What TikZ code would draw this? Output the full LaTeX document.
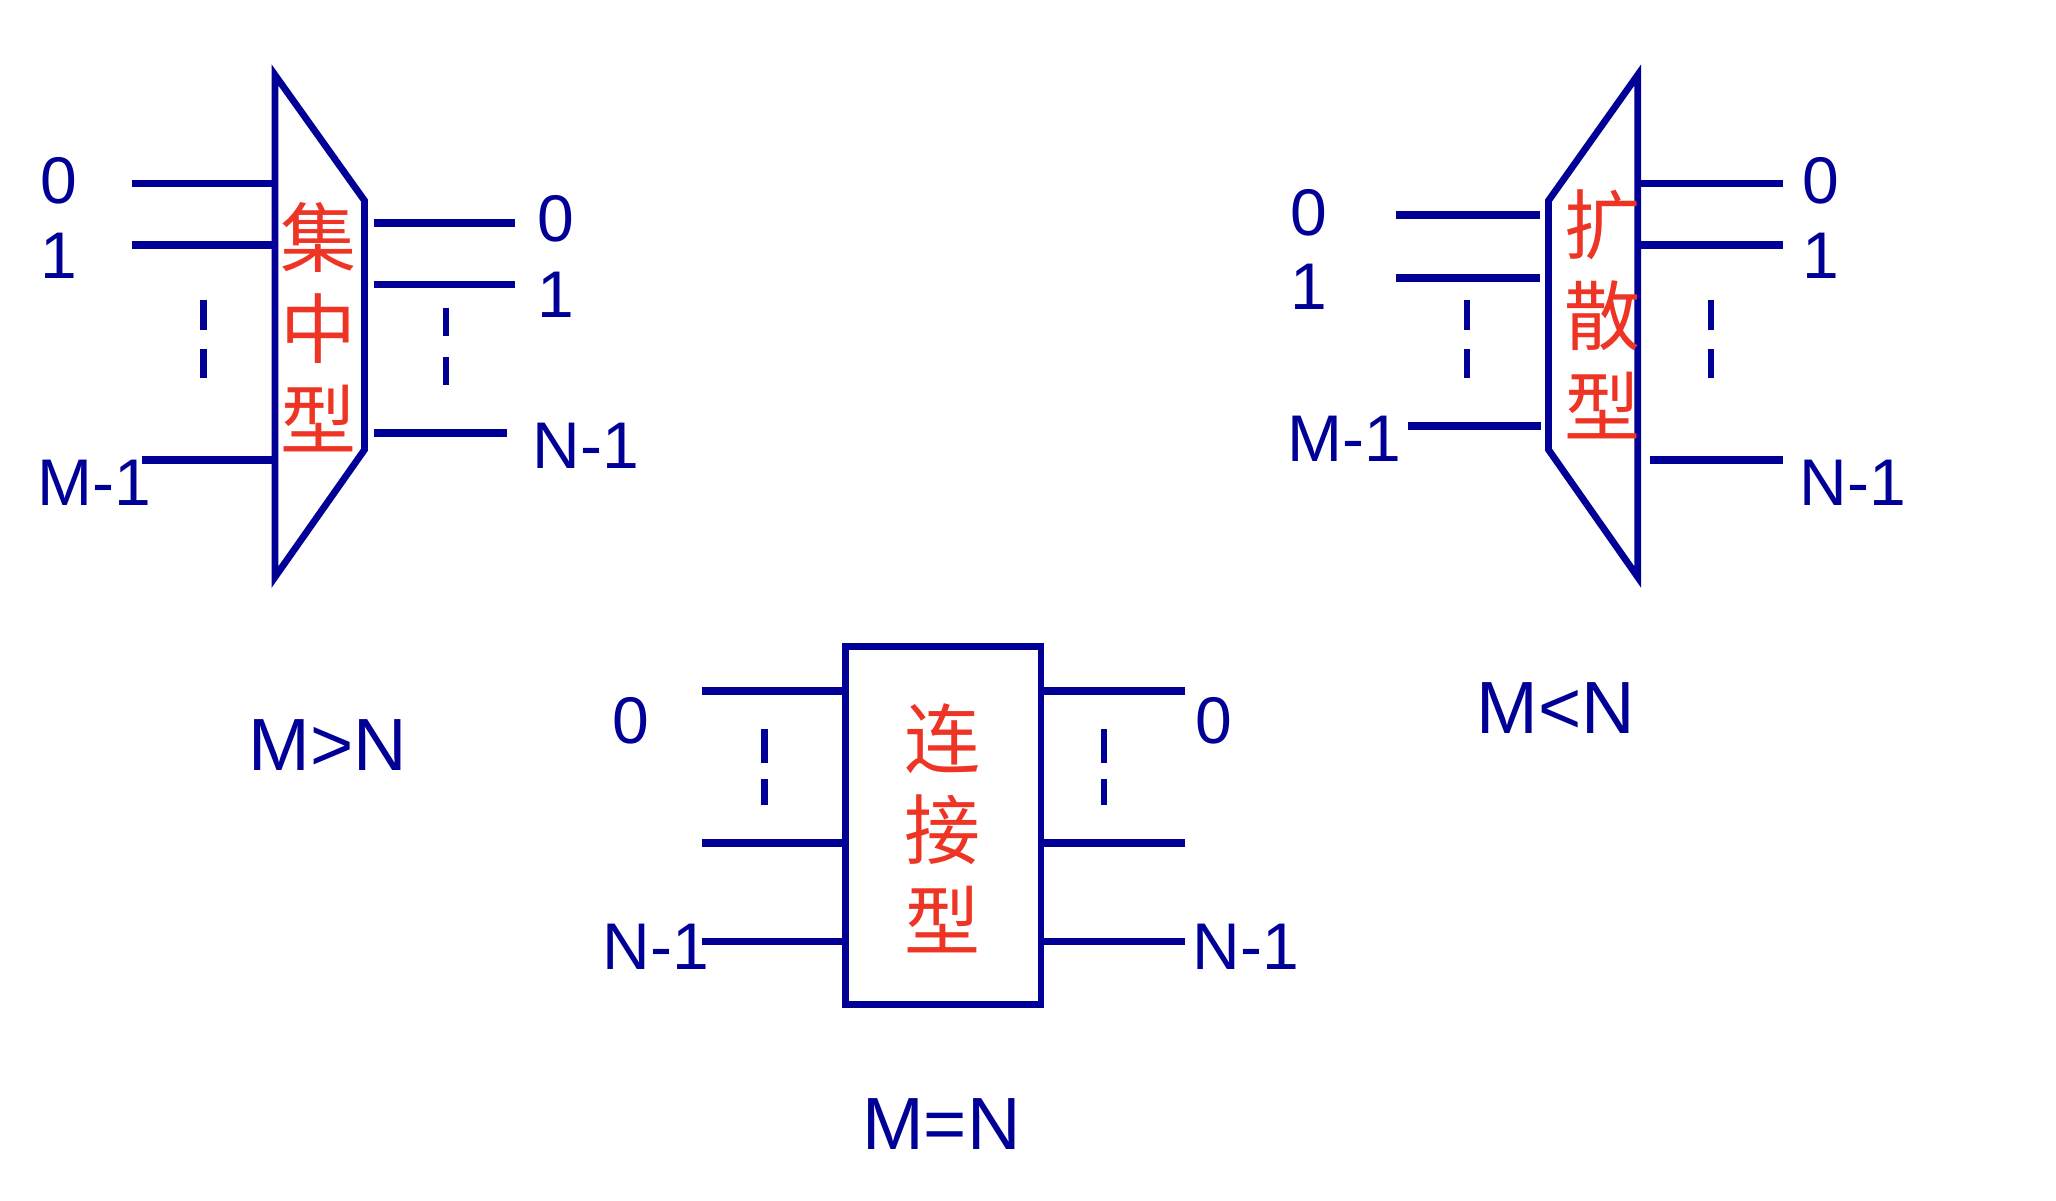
\documentclass[tikz,border=0pt]{standalone}
\usepackage{fontspec}
\setmainfont{Liberation Sans}
\newfontfamily\cjk{Noto Sans CJK SC}
\usetikzlibrary{positioning}
\definecolor{portblue}{RGB}{0,0,150}
\definecolor{typered}{RGB}{238,52,36}

\begin{document}
\begin{tikzpicture}[
  x=0.5pt, y=-0.5pt,
  port/.style={draw=portblue, line width=3.8pt},
  body/.style={draw=portblue, line width=3.4pt},
  gap/.style={draw=portblue, line width=3.3pt},
  num/.style={text=portblue, font=\fontsize{33}{36}\selectfont, inner sep=0pt},
  kind/.style={text=typered, font=\cjk\fontsize{38}{45.5}\selectfont, align=center, inner sep=0pt},
  rel/.style={text=portblue, font=\fontsize{37}{40}\selectfont, inner sep=0pt}
]
\useasboundingbox (0,0) rectangle (2056,1200);

% M>N : concentrating
\draw[body] (275,75) -- (364.5,200.6) -- (364.5,449.7) -- (275,577) -- cycle;
\node[kind] (conc) at (318.6,327.5) {集\\中\\型};
\draw[port] (132.4,183.6) -- (273,183.6);
\draw[port] (132.4,245.2) -- (273,245.2);
\draw[port] (141.6,460.2) -- (273,460.2);
\draw[port] (373.7,222.9) -- (515.3,222.9);
\draw[port] (373.7,284.5) -- (515.3,284.5);
\draw[port] (373.7,432.7) -- (507.4,432.7);
\foreach \x in {203.2} {
  \draw[gap] (\x,299.5) -- (\x,330);
  \draw[gap] (\x,348.8) -- (\x,377.6);
}
\foreach \x in {445.8} {
  \draw[gap] (\x,307.5) -- (\x,336);
  \draw[gap] (\x,357) -- (\x,385);
}
\node[num] (ca0) at (59,181) {0};
\node[num] (ca1) at (59,255.7) {1};
\node[num] (cam) at (94.4,482.5) {M-1};
\node[num] (cb0) at (556,219) {0};
\node[num] (cb1) at (556,295) {1};
\node[num] (cbn) at (586,445.8) {N-1};
\node[rel] (mgtn) at (327.8,744.8) {M>N};

% M<N : expanding
\draw[body] (1637.7,75) -- (1548.5,200.6) -- (1548.5,449.7) -- (1637.7,577) -- cycle;
\node[kind] (expa) at (1602,314.7) {扩\\散\\型};
\draw[port] (1396.4,215) -- (1540,215);
\draw[port] (1396.4,278) -- (1540,278);
\draw[port] (1408,426) -- (1541,426);
\draw[port] (1640,183.6) -- (1783,183.6);
\draw[port] (1640,245.2) -- (1783,245.2);
\draw[port] (1649.5,460.2) -- (1783,460.2);
\foreach \x in {1467, 1711} {
  \draw[gap] (\x,300) -- (\x,330);
  \draw[gap] (\x,348.8) -- (\x,377.6);
}
\node[num] (ea0) at (1308.6,212.4) {0};
\node[num] (ea1) at (1308.6,287) {1};
\node[num] (eam) at (1344,439) {M-1};
\node[num] (eb0) at (1821,181) {0};
\node[num] (eb1) at (1821,255.7) {1};
\node[num] (ebn) at (1852.7,482.5) {N-1};
\node[rel] (mltn) at (1556,708) {M<N};

% M=N : connecting
\draw[body] (845.7,646.4) rectangle (1041,1004.4);
\node[kind] (conn) at (942.7,828) {连\\接\\型};
\foreach \y in {691, 843, 941.5} {
  \draw[port] (701.5,\y) -- (845.7,\y);
  \draw[port] (1041,\y) -- (1185.3,\y);
}
\foreach \x in {764.4, 1104} {
  \draw[gap] (\x,729) -- (\x,763);
  \draw[gap] (\x,779) -- (\x,805);
}
\node[num] (na0) at (630.7,721) {0};
\node[num] (nan) at (655.6,946.7) {N-1};
\node[num] (nb0) at (1214,721) {0};
\node[num] (nbn) at (1245.6,946.7) {N-1};
\node[rel] (meqn) at (941.4,1123.7) {M=N};
\end{tikzpicture}
\end{document}
